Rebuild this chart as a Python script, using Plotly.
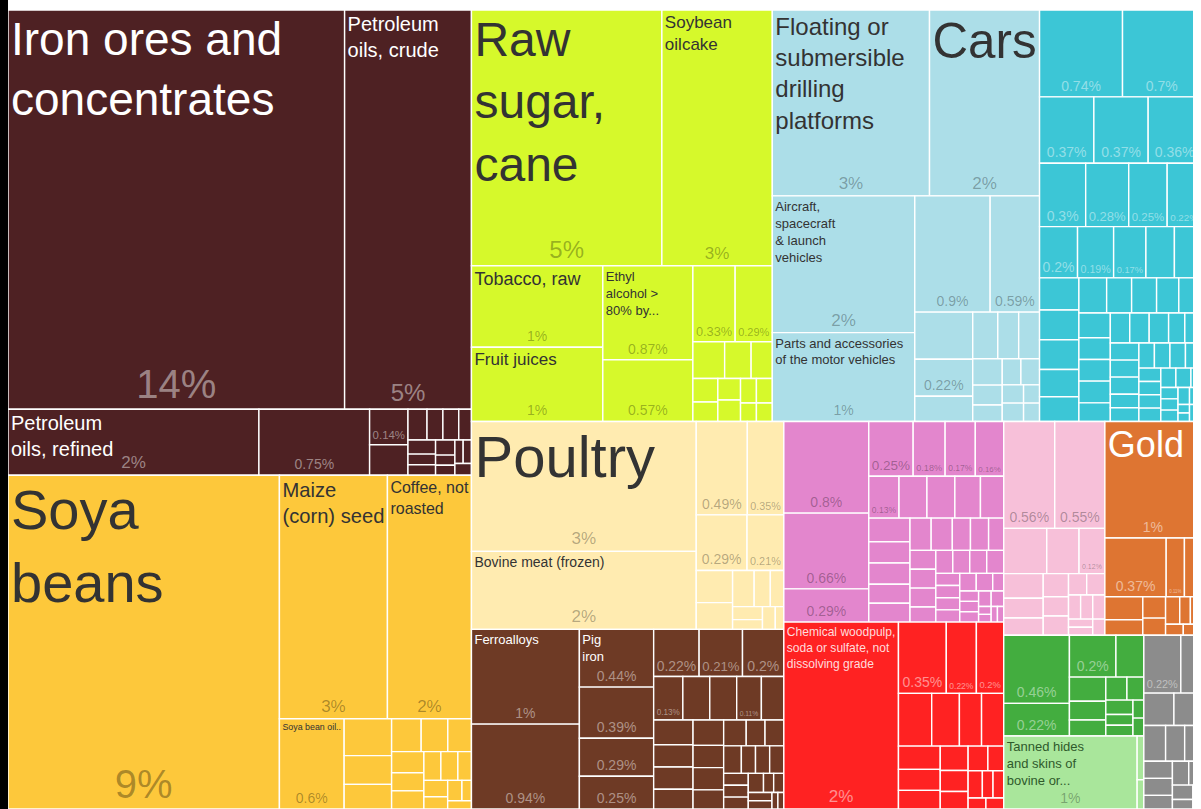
import plotly.graph_objects as go

# ---------------- DATA (share of total exports, %) ----------------
# name = product label shown, "" = only the share is shown, None = no text
mineral_names = ["Iron ores and<br>concentrates", "Petroleum<br>oils, crude", "Petroleum<br>oils, refined", "", "",
                 None, None, None, None, None, None, None, None, None, None, None, None, None, None]
mineral_values = [13.8, 5.2, 1.7, 0.75, 0.14, 0.12, 0.06, 0.05, 0.05, 0.04, 0.04, 0.03, 0.03, 0.03,
                  0.02, 0.02, 0.02, 0.02, 0.02]

vegetable_names = ["Soya<br>beans", "Maize<br>(corn) seed", "Coffee, not<br>roasted", "Soya bean oil..",
                   None, None, None, None, None, None, None, None, None, None, None, None, None, None, None,
                   None, None]
vegetable_values = [9.3, 2.7, 2.1, 0.6, 0.18, 0.14, 0.12, 0.1, 0.09, 0.08, 0.07, 0.06, 0.06, 0.05, 0.05,
                    0.04, 0.04, 0.03, 0.03, 0.02, 0.02]

food_names = ["Raw<br>sugar,<br>cane", "Soybean<br>oilcake", "Tobacco, raw", "Fruit juices",
              "Ethyl<br>alcohol ><br>80% by...", "", "", "",
              None, None, None, None, None, None, None, None, None, None, None]
food_values = [5.0, 2.9, 1.1, 1.0, 0.87, 0.57, 0.33, 0.29, 0.12, 0.1, 0.08, 0.06, 0.05, 0.05, 0.05,
               0.04, 0.04, 0.03, 0.03]

transport_names = ["Floating or<br>submersible<br>drilling<br>platforms", "Cars",
                   "Aircraft,<br>spacecraft<br>& launch<br>vehicles",
                   "Parts and accessories<br>of the motor vehicles", "", "", None, "",
                   None, None, None, None, None, None, None, None, None, None, None, None, None]
transport_values = [3.0, 2.1, 2.0, 1.3, 0.9, 0.59, 0.28, 0.22, 0.15, 0.12, 0.1, 0.1, 0.08, 0.06, 0.05,
                    0.05, 0.05, 0.04, 0.04, 0.03, 0.03]

machines_values = [0.74, 0.7, 0.37, 0.37, 0.36, 0.3, 0.28, 0.25, 0.22, 0.2, 0.19, 0.17,
                   0.15, 0.14, 0.13, 0.12, 0.12, 0.11, 0.1, 0.1, 0.09, 0.09, 0.08, 0.08, 0.08,
                   0.07, 0.07, 0.07, 0.06, 0.06, 0.06, 0.06, 0.05, 0.05, 0.05, 0.05, 0.05,
                   0.04, 0.04, 0.04, 0.04, 0.04, 0.04, 0.03, 0.03, 0.03, 0.03, 0.03, 0.03,
                   0.02, 0.02, 0.02, 0.02, 0.02, 0.02, 0.01, 0.01, 0.01, 0.01]
machines_names = [""] * 12 + [None] * (len(machines_values) - 12)

animal_names = ["Poultry", "Bovine meat (frozen)", "", "", "", "",
                None, None, None, None, None, None, None, None, None]
animal_values = [3.0, 1.8, 0.49, 0.35, 0.29, 0.21, 0.12, 0.1, 0.08, 0.06, 0.05, 0.04, 0.03, 0.03, 0.02]

metals_values = [1.05, 0.94, 0.44, 0.39, 0.29, 0.25, 0.22, 0.21, 0.2, 0.13, 0.11,
                 0.12, 0.12, 0.1, 0.1, 0.09, 0.09, 0.08, 0.08, 0.07, 0.07, 0.06, 0.06, 0.05, 0.05,
                 0.05, 0.04, 0.04, 0.04, 0.03, 0.03, 0.03, 0.03, 0.02, 0.02, 0.02, 0.02, 0.01, 0.01]
metals_names = ["Ferroalloys", "", "Pig<br>iron", "", "", "", "", "", "", "", ""] + [None] * (len(metals_values) - 11)

chemicals_values = [0.8, 0.66, 0.29, 0.25, 0.18, 0.17, 0.16, 0.13,
                    0.12, 0.12, 0.11, 0.1, 0.1, 0.09, 0.09, 0.08, 0.08, 0.07, 0.07, 0.06, 0.06,
                    0.05, 0.05, 0.05, 0.05, 0.04, 0.04, 0.04, 0.04, 0.04, 0.03, 0.03, 0.03, 0.03,
                    0.03, 0.03, 0.02, 0.02, 0.02, 0.02, 0.02, 0.02, 0.01, 0.01, 0.01, 0.01]
chemicals_names = [""] * 8 + [None] * (len(chemicals_values) - 8)

paper_names = ["Chemical woodpulp,<br>soda or sulfate, not<br>dissolving grade", "", "", "",
               None, None, None, None, None, None, None, None, None, None, None, None, None, None,
               None, None, None]
paper_values = [2.2, 0.35, 0.22, 0.2, 0.18, 0.15, 0.12, 0.12, 0.1, 0.09, 0.08, 0.07, 0.06, 0.05, 0.05,
                0.04, 0.04, 0.03, 0.03, 0.02, 0.02]

plastics_values = [0.56, 0.55, 0.12, 0.2, 0.15, 0.1, 0.08, 0.07, 0.06, 0.05, 0.05, 0.04, 0.04, 0.03,
                   0.03, 0.03, 0.02, 0.02, 0.02]
plastics_names = ["", "", ""] + [None] * (len(plastics_values) - 3)

gold_values = [1.15, 0.37, 0.11, 0.1, 0.09, 0.06, 0.05, 0.04, 0.04, 0.03, 0.03, 0.02, 0.02]
gold_names = ["Gold", "", ""] + [None] * (len(gold_values) - 3)

wood_values = [0.46, 0.22, 0.2, 0.12, 0.09, 0.07, 0.06, 0.05, 0.04, 0.04, 0.03, 0.03, 0.02, 0.02]
wood_names = ["", "", ""] + [None] * (len(wood_values) - 3)

hides_names = ["Tanned hides<br>and skins of<br>bovine or...", None, None]
hides_values = [1.0, 0.03, 0.02]

stone_values = [0.22, 0.12, 0.1, 0.09, 0.08, 0.07, 0.06, 0.05, 0.05, 0.04, 0.04, 0.03, 0.03, 0.02, 0.02]
stone_names = [""] + [None] * (len(stone_values) - 1)

sector_names = ["Mineral Products", "Vegetable Products", "Foodstuffs", "Transportation", "Machines",
                "Animal Products", "Metals", "Chemical Products", "Paper Goods", "Plastics and Rubbers",
                "Precious Metals", "Wood Products", "Animal Hides", "Stone and Glass"]
sector_items = [(mineral_names, mineral_values), (vegetable_names, vegetable_values),
                (food_names, food_values), (transport_names, transport_values),
                (machines_names, machines_values), (animal_names, animal_values),
                (metals_names, metals_values), (chemicals_names, chemicals_values),
                (paper_names, paper_values), (plastics_names, plastics_values),
                (gold_names, gold_values), (wood_names, wood_values),
                (hides_names, hides_values), (stone_names, stone_values)]

# ---------------- STYLE ----------------
# fill colour, label colour, share colour
SECTOR_STYLE = {
    "Mineral Products": ("#4E2123", "#FFFFFF", "rgba(255,255,255,0.45)"),
    "Vegetable Products": ("#FDC83B", "#333333", "rgba(0,0,0,0.32)"),
    "Foodstuffs": ("#D6F92B", "#333333", "rgba(0,0,0,0.3)"),
    "Transportation": ("#ACDEE8", "#333333", "rgba(0,0,0,0.3)"),
    "Machines": ("#3CC6D6", "#FFFFFF", "rgba(255,255,255,0.45)"),
    "Animal Products": ("#FFEBB0", "#333333", "rgba(0,0,0,0.3)"),
    "Metals": ("#6E3A25", "#FFFFFF", "rgba(255,255,255,0.45)"),
    "Chemical Products": ("#E386CD", "#333333", "rgba(0,0,0,0.3)"),
    "Paper Goods": ("#FF2222", "rgba(255,255,255,0.85)", "rgba(255,255,255,0.5)"),
    "Plastics and Rubbers": ("#F7C0D9", "#333333", "rgba(0,0,0,0.3)"),
    "Precious Metals": ("#DE7532", "#FFFFFF", "rgba(255,255,255,0.5)"),
    "Wood Products": ("#43AD3F", "#FFFFFF", "rgba(255,255,255,0.45)"),
    "Animal Hides": ("#A9E69B", "#2F5A2B", "rgba(0,0,0,0.3)"),
    "Stone and Glass": ("#8C8C8C", "#FFFFFF", "rgba(255,255,255,0.45)"),
}
NAME_SIZE = {
    "Iron ores and<br>concentrates": 46, "Petroleum<br>oils, crude": 20, "Petroleum<br>oils, refined": 20,
    "Soya<br>beans": 56, "Maize<br>(corn) seed": 26, "Coffee, not<br>roasted": 25, "Soya bean oil..": 13,
    "Raw<br>sugar,<br>cane": 48, "Soybean<br>oilcake": 17, "Tobacco, raw": 18, "Fruit juices": 17,
    "Ethyl<br>alcohol ><br>80% by...": 13, "Poultry": 58, "Bovine meat (frozen)": 14,
    "Ferroalloys": 13, "Pig<br>iron": 13, "Cars": 52, "Parts and accessories<br>of the motor vehicles": 13,
    "Floating or<br>submersible<br>drilling<br>platforms": 24,
    "Aircraft,<br>spacecraft<br>& launch<br>vehicles": 13, "Gold": 36,
    "Chemical woodpulp,<br>soda or sulfate, not<br>dissolving grade": 14,
    "Tanned hides<br>and skins of<br>bovine or...": 13,
}


def fmt_share(v):
    if v >= 1:
        return f"{round(v):.0f}%"
    return f"{v:.2f}".rstrip("0").rstrip(".") + "%"


def share_size(v):
    if v >= 8:
        return 40
    if v >= 4.5:
        return 24
    if v >= 1.5:
        return 17
    if v >= 0.9:
        return 14
    return 14


ids, labels, parents, values = ["root"], ["Brazil exports"], [""], [0]
colors = ["#FFFFFF"]
name_text, name_col, name_size = [""], ["#333"], [12]
pct_text, pct_col, pct_size = [""], ["#333"], [12]

for sname, (nlist, vlist) in zip(sector_names, sector_items):
    fill, lab_c, pct_c = SECTOR_STYLE[sname]
    ids.append(sname); labels.append(sname); parents.append("root"); values.append(0)
    colors.append(fill)
    name_text.append(""); name_col.append(lab_c); name_size.append(12)
    pct_text.append(""); pct_col.append(pct_c); pct_size.append(12)
    for i, (n, v) in enumerate(zip(nlist, vlist)):
        ids.append(f"{sname}/{i}")
        labels.append(n.replace("<br>", " ") if n else f"{sname} ({fmt_share(v)})")
        parents.append(sname)
        values.append(v)
        colors.append(fill)
        name_text.append(n if n else "")
        name_col.append(lab_c)
        name_size.append(NAME_SIZE.get(n, 13) if n else 12)
        pct_text.append(fmt_share(v) if n is not None else "")
        pct_col.append(pct_c)
        pct_size.append(share_size(v))

FONT = "Liberation Sans, Arial, Helvetica, sans-serif"
common = dict(ids=ids, labels=labels, parents=parents, values=values, branchvalues="remainder",
              sort=True, tiling=dict(packing="squarify", squarifyratio=1.618, pad=0),
              pathbar=dict(visible=False), maxdepth=-1)

fig = go.Figure()
fig.add_trace(go.Treemap(
    **common,
    marker=dict(colors=colors, line=dict(color="#FFFFFF", width=1.4), pad=dict(t=0, l=0, r=0, b=0)),
    text=name_text, texttemplate="%{text}", textposition="top left",
    textfont=dict(family=FONT, color=name_col, size=name_size),
    hovertemplate="%{label}<br>%{value:.2f}%<extra></extra>",
))
fig.add_trace(go.Treemap(
    **common,
    marker=dict(colors=["rgba(0,0,0,0)"] * len(ids), line=dict(width=0), pad=dict(t=0, l=0, r=0, b=0)),
    text=pct_text, texttemplate="%{text}", textposition="bottom center",
    textfont=dict(family=FONT, color=pct_col, size=pct_size),
    hoverinfo="skip",
))

# the page body keeps its default 8px margin; the figure fills the rest of the window
fig.update_layout(width=1193, height=801, margin=dict(l=0, r=0, t=2, b=0),
                  paper_bgcolor="#FFFFFF", showlegend=False, font=dict(family=FONT))
fig.write_html(
    "out.html",
    post_script="document.body.style.background='linear-gradient(to right, #000 0px, #000 8px, #fff 8px)';"
                "document.body.style.overflow='hidden';",
)
